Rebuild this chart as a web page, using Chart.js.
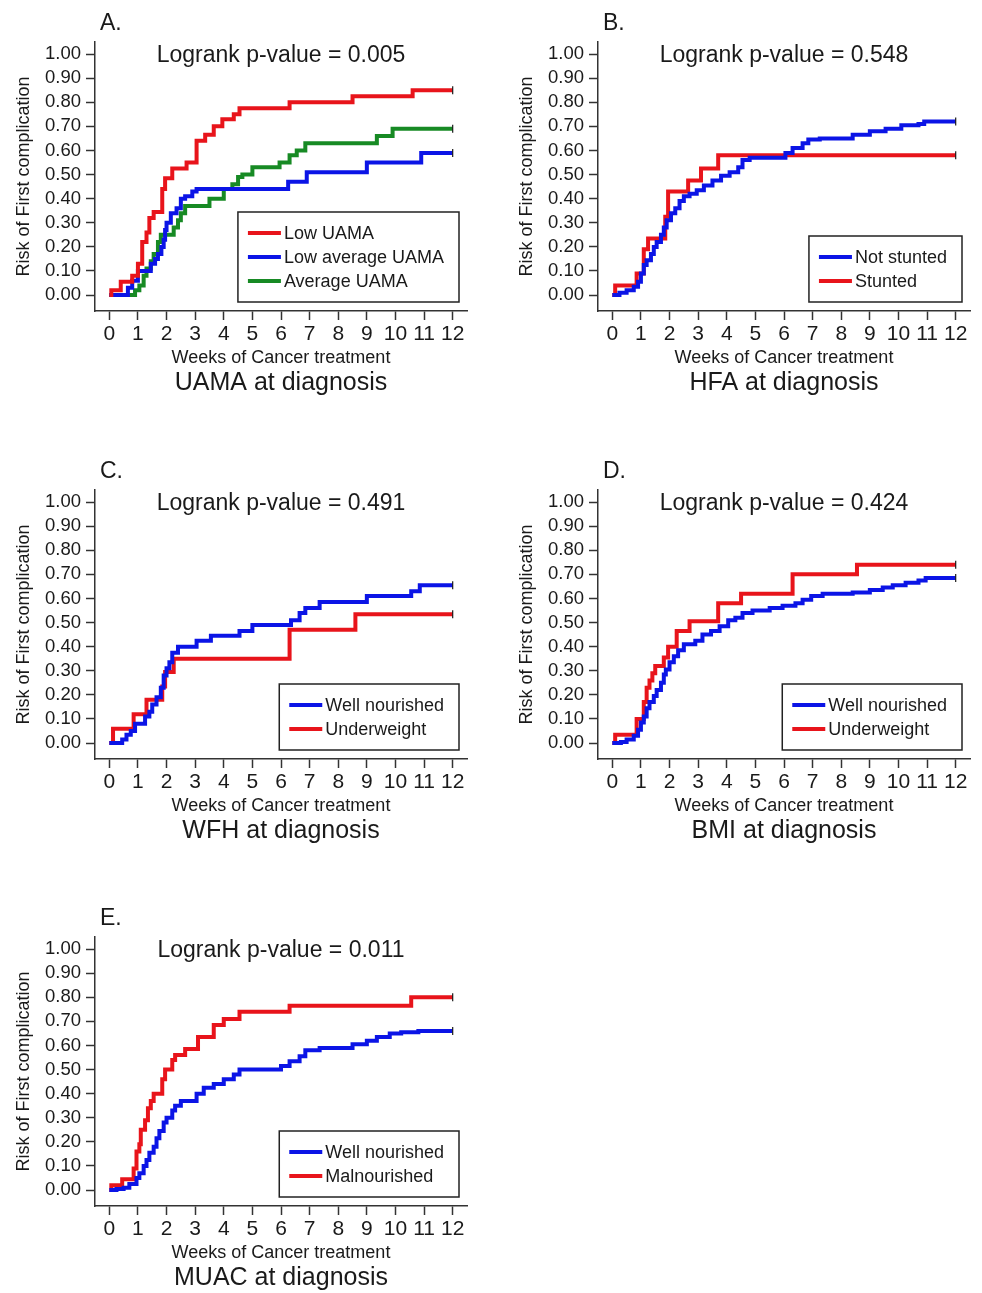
<!DOCTYPE html>
<html>
<head>
<meta charset="utf-8">
<script src="https://cdn.jsdelivr.net/npm/chart.js@4.4.1/dist/chart.umd.min.js"></script>
<style>
  body { margin: 0; background: #fff; }
  #page { position: relative; width: 982px; height: 1293px; overflow: hidden; }
  canvas { position: absolute; }
</style>
</head>
<body>
<div id="page">
  <canvas id="panelA" width="479" height="400" style="left:0;top:0"></canvas>
  <canvas id="panelB" width="479" height="400" style="left:503px;top:0"></canvas>
  <canvas id="panelC" width="479" height="400" style="left:0;top:448px"></canvas>
  <canvas id="panelD" width="479" height="400" style="left:503px;top:448px"></canvas>
  <canvas id="panelE" width="479" height="398" style="left:0;top:895px"></canvas>
</div>
<script>
// axis ticks
var xTicks = [0, 1, 2, 3, 4, 5, 6, 7, 8, 9, 10, 11, 12];
var yTicks = [0, 0.1, 0.2, 0.3, 0.4, 0.5, 0.6, 0.7, 0.8, 0.9, 1.0];

// [week, cumulative risk] at each step
// A. UAMA
var uamaLow = [[0,0],[0.07,0.02],[0.4,0.055],[0.8,0.08],[1.0,0.13],[1.15,0.22],[1.3,0.26],[1.4,0.32],[1.55,0.345],[1.85,0.44],[1.95,0.485],[2.2,0.525],[2.7,0.55],[3.05,0.64],[3.35,0.665],[3.65,0.70],[3.95,0.73],[4.35,0.75],[4.55,0.775],[6.3,0.80],[8.5,0.825],[10.6,0.85],[12,0.85]];
var uamaLowAvg = [[0,0],[0.65,0.03],[0.8,0.06],[1.0,0.10],[1.45,0.13],[1.6,0.15],[1.7,0.17],[1.82,0.20],[1.9,0.23],[1.95,0.27],[2.0,0.30],[2.15,0.34],[2.35,0.36],[2.5,0.40],[2.65,0.41],[2.9,0.43],[3.05,0.44],[6.25,0.47],[6.9,0.51],[9.0,0.55],[10.9,0.59],[12,0.59]];
var uamaAvg = [[0,0],[0.9,0.02],[1.05,0.04],[1.2,0.08],[1.3,0.11],[1.45,0.14],[1.55,0.17],[1.7,0.22],[1.8,0.25],[2.25,0.28],[2.4,0.31],[2.5,0.34],[2.65,0.37],[3.5,0.40],[4.0,0.44],[4.3,0.46],[4.5,0.49],[4.65,0.50],[5.0,0.53],[5.95,0.55],[6.3,0.58],[6.55,0.60],[6.85,0.63],[9.35,0.66],[9.9,0.69],[12,0.69]];

// B. HFA
var hfaNotStunted = [[0,0],[0.25,0.01],[0.5,0.02],[0.75,0.035],[0.9,0.055],[1.0,0.09],[1.1,0.125],[1.2,0.145],[1.35,0.17],[1.45,0.20],[1.55,0.22],[1.7,0.25],[1.8,0.28],[1.9,0.31],[2.05,0.34],[2.2,0.36],[2.35,0.39],[2.5,0.41],[2.7,0.42],[2.95,0.435],[3.2,0.455],[3.5,0.475],[3.8,0.495],[4.1,0.51],[4.4,0.53],[4.55,0.56],[4.8,0.57],[6.05,0.59],[6.3,0.61],[6.65,0.63],[6.85,0.645],[7.25,0.65],[8.4,0.665],[9.0,0.68],[9.55,0.69],[10.1,0.705],[10.7,0.71],[10.9,0.72],[12,0.72]];
var hfaStunted = [[0,0],[0.1,0.04],[0.85,0.09],[1.1,0.19],[1.25,0.235],[1.85,0.325],[1.95,0.43],[2.65,0.475],[3.1,0.525],[3.7,0.58],[12,0.58]];

// C. WFH
var wfhWell = [[0,0],[0.45,0.015],[0.6,0.035],[0.75,0.05],[0.9,0.08],[1.25,0.11],[1.4,0.13],[1.5,0.16],[1.65,0.19],[1.8,0.23],[1.9,0.28],[2.0,0.31],[2.1,0.335],[2.2,0.375],[2.4,0.40],[3.05,0.425],[3.55,0.445],[4.55,0.465],[5.0,0.49],[6.35,0.51],[6.65,0.54],[6.85,0.56],[7.35,0.585],[9.0,0.61],[10.55,0.63],[10.85,0.655],[12,0.655]];
var wfhUnder = [[0,0],[0.13,0.06],[0.85,0.12],[1.3,0.18],[1.85,0.235],[1.95,0.295],[2.25,0.35],[6.3,0.47],[8.6,0.535],[12,0.535]];

// D. BMI
var bmiWell = [[0,0],[0.3,0.005],[0.5,0.015],[0.75,0.03],[0.9,0.055],[1.0,0.085],[1.1,0.11],[1.2,0.145],[1.3,0.17],[1.45,0.195],[1.55,0.22],[1.7,0.25],[1.8,0.285],[1.87,0.305],[2.0,0.335],[2.15,0.36],[2.3,0.385],[2.5,0.41],[2.9,0.425],[3.15,0.45],[3.45,0.465],[3.75,0.485],[4.05,0.51],[4.3,0.52],[4.55,0.54],[4.9,0.55],[5.5,0.56],[5.95,0.57],[6.4,0.58],[6.65,0.595],[6.95,0.61],[7.35,0.62],[8.4,0.625],[9.0,0.635],[9.45,0.645],[9.8,0.655],[10.25,0.665],[10.7,0.675],[10.95,0.685],[12,0.685]];
var bmiUnder = [[0,0],[0.1,0.035],[0.85,0.10],[1.1,0.17],[1.2,0.23],[1.3,0.26],[1.4,0.29],[1.5,0.32],[1.8,0.355],[1.95,0.40],[2.25,0.465],[2.7,0.505],[3.7,0.58],[4.5,0.62],[6.3,0.70],[8.55,0.74],[12,0.74]];

// E. MUAC
var muacWell = [[0,0],[0.25,0.005],[0.5,0.01],[0.7,0.025],[0.95,0.05],[1.05,0.07],[1.2,0.10],[1.3,0.125],[1.4,0.155],[1.55,0.18],[1.65,0.215],[1.75,0.245],[1.9,0.28],[2.0,0.30],[2.2,0.33],[2.3,0.35],[2.5,0.37],[3.05,0.40],[3.3,0.425],[3.65,0.44],[4.0,0.46],[4.35,0.48],[4.55,0.50],[6.0,0.515],[6.3,0.535],[6.65,0.555],[6.85,0.58],[7.35,0.59],[8.5,0.605],[9.0,0.62],[9.35,0.635],[9.8,0.65],[10.2,0.655],[10.8,0.66],[12,0.66]];
var muacMal = [[0,0],[0.07,0.02],[0.45,0.045],[0.85,0.09],[0.95,0.16],[1.05,0.19],[1.1,0.25],[1.25,0.29],[1.35,0.34],[1.45,0.37],[1.55,0.40],[1.85,0.46],[1.95,0.50],[2.2,0.54],[2.3,0.56],[2.65,0.585],[3.1,0.635],[3.65,0.685],[4.0,0.71],[4.55,0.74],[6.3,0.765],[10.55,0.80],[12,0.80]];

var RED = '#e8141b';
var BLUE = '#0b14e6';
var GREEN = '#178a24';
var FONT = "'Liberation Sans', Arial, sans-serif";
var INK = '#1a1a1a';

function series(label, pts, color) {
  var last = pts.length - 1;
  return {
    label: label,
    data: pts.map(function(p) { return {x: p[0], y: p[1]}; }),
    borderColor: color,
    borderWidth: 4,
    borderJoinStyle: 'miter',
    stepped: 'before',
    fill: false,
    pointStyle: 'line',
    rotation: 90,
    pointBorderColor: INK,
    pointBorderWidth: 1.2,
    pointRadius: function(ctx) { return ctx.dataIndex === last ? 4 : 0; }
  };
}

// letter, logrank text, caption and boxed legend inside the plot
var panelText = {
  id: 'panelText',
  afterDraw: function(chart, args, opts) {
    var ctx = chart.ctx, a = chart.chartArea;
    var cx = (a.left + a.right) / 2;
    ctx.save();
    ctx.fillStyle = INK;
    ctx.textBaseline = 'alphabetic';
    ctx.font = '23px ' + FONT;
    ctx.textAlign = 'left';
    ctx.fillText(opts.letter, a.left + 5, 30);
    ctx.textAlign = 'center';
    ctx.fillText(opts.pval, cx, 62);
    ctx.font = '25px ' + FONT;
    ctx.fillText(opts.caption, cx, 390);

    var ds = chart.data.datasets;
    ctx.font = '18px ' + FONT;
    var maxW = 0;
    ds.forEach(function(d) { maxW = Math.max(maxW, ctx.measureText(d.label).width); });
    var boxW = 10 + 33 + 4 + maxW + 14;
    var boxH = ds.length * 24 + 18;
    var bx = a.right - 8 - boxW, by = a.bottom - 9 - boxH;
    ctx.fillStyle = '#fff';
    ctx.fillRect(bx, by, boxW, boxH);
    ctx.strokeStyle = '#222';
    ctx.lineWidth = 1.5;
    ctx.strokeRect(bx, by, boxW, boxH);
    ctx.textAlign = 'left';
    ctx.textBaseline = 'middle';
    ds.forEach(function(d, i) {
      var y = by + 21 + i * 24;
      ctx.strokeStyle = d.borderColor;
      ctx.lineWidth = 4;
      ctx.beginPath();
      ctx.moveTo(bx + 10, y);
      ctx.lineTo(bx + 43, y);
      ctx.stroke();
      ctx.fillStyle = INK;
      ctx.fillText(d.label, bx + 46, y + 1);
    });
    ctx.restore();
  }
};

function makePanel(id, letter, pval, caption, datasets) {
  var canvas = document.getElementById(id);
  var W = canvas.width, H = canvas.height;
  return new Chart(canvas, {
    type: 'line',
    data: { datasets: datasets },
    plugins: [panelText],
    options: {
      responsive: false,
      animation: false,
      layout: { padding: { top: 42, right: W - 467, bottom: H - 371, left: 0 } },
      plugins: {
        legend: { display: false },
        tooltip: { enabled: false },
        panelText: { letter: letter, pval: pval, caption: caption }
      },
      scales: {
        x: {
          type: 'linear',
          min: -0.5,
          max: 12.5,
          afterBuildTicks: function(s) { s.ticks = xTicks.map(function(v) { return {value: v}; }); },
          afterFit: function(s) { s.height = 60; },
          border: { display: true, color: '#333', width: 1.5 },
          grid: { drawOnChartArea: false, drawTicks: true, tickLength: 9, tickWidth: 1.5, tickColor: '#333' },
          ticks: { padding: 2, color: INK, font: { family: FONT, size: 21 }, maxRotation: 0, autoSkip: false },
          title: { display: true, text: 'Weeks of Cancer treatment', color: INK,
                   font: { family: FONT, size: 18 }, padding: { top: 0, bottom: 2 } }
        },
        y: {
          min: -0.066,
          max: 1.05,
          afterBuildTicks: function(s) { s.ticks = yTicks.map(function(v) { return {value: v}; }); },
          afterFit: function(s) { s.width = 95; },
          border: { display: true, color: '#333', width: 1.5 },
          grid: { drawOnChartArea: false, drawTicks: true, tickLength: 9, tickWidth: 1.5, tickColor: '#333' },
          ticks: { padding: 5, color: INK, font: { family: FONT, size: 18.5 },
                   callback: function(v) { return v.toFixed(2); } },
          title: { display: true, text: 'Risk of First complication', color: INK,
                   font: { family: FONT, size: 18 }, padding: { top: 13, bottom: 0 } }
        }
      }
    }
  });
}

makePanel('panelA', 'A.', 'Logrank p-value = 0.005', 'UAMA at diagnosis', [
  series('Low UAMA', uamaLow, RED),
  series('Low average UAMA', uamaLowAvg, BLUE),
  series('Average UAMA', uamaAvg, GREEN)
]);
makePanel('panelB', 'B.', 'Logrank p-value = 0.548', 'HFA at diagnosis', [
  series('Not stunted', hfaNotStunted, BLUE),
  series('Stunted', hfaStunted, RED)
]);
makePanel('panelC', 'C.', 'Logrank p-value = 0.491', 'WFH at diagnosis', [
  series('Well nourished', wfhWell, BLUE),
  series('Underweight', wfhUnder, RED)
]);
makePanel('panelD', 'D.', 'Logrank p-value = 0.424', 'BMI at diagnosis', [
  series('Well nourished', bmiWell, BLUE),
  series('Underweight', bmiUnder, RED)
]);
makePanel('panelE', 'E.', 'Logrank p-value = 0.011', 'MUAC at diagnosis', [
  series('Well nourished', muacWell, BLUE),
  series('Malnourished', muacMal, RED)
]);
</script>
</body>
</html>
